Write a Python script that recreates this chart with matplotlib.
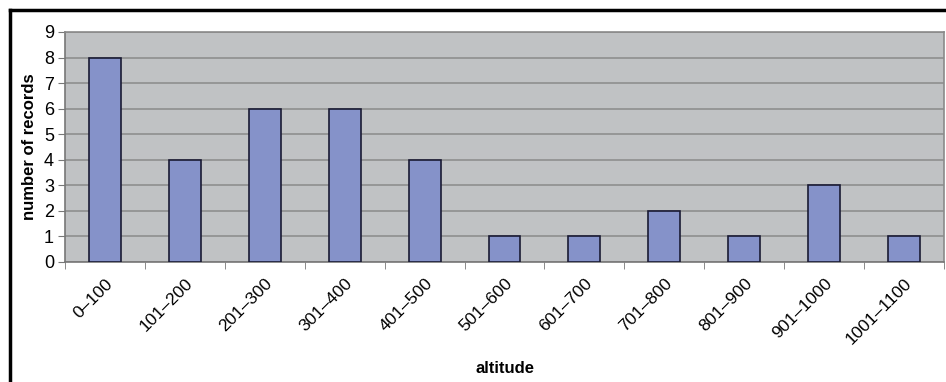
import numpy as np
import matplotlib.pyplot as plt

altitude = ["0–100", "101–200", "201–300", "301–400", "401–500", "501–600",
            "601–700", "701–800", "801–900", "901–1000", "1001–1100"]
records = [8, 4, 6, 6, 4, 1, 1, 2, 1, 3, 1]

plt.rcParams['font.family'] = ['Liberation Sans', 'DejaVu Sans']

fig = plt.figure(figsize=(9.46, 3.82), dpi=100)
ax = fig.add_axes([65 / 946, 1 - 262 / 382, 879 / 946, 230 / 382])

x = np.arange(len(altitude))
ax.bar(x, records, width=0.4, color="#8592c9", edgecolor="#1a1a33",
       linewidth=1.2, zorder=3)

ax.set_facecolor("#c0c2c4")
ax.set_xlim(-0.5, len(altitude) - 0.5)
ax.set_ylim(0, 9)
ax.set_yticks(range(10))
ax.yaxis.grid(True, color="#8a8a8a", linewidth=1.1, zorder=1)

ax.set_xticks(x)
ax.set_xticklabels(altitude, rotation=45, ha="right", rotation_mode="anchor",
                   fontsize=12.5)
ax.tick_params(axis="x", length=0, pad=10)
ax.set_xticks(np.arange(-0.5, len(altitude)), minor=True)
ax.tick_params(axis="x", which="minor", length=5, color="#777777")
ax.tick_params(axis="y", labelsize=13, length=5, color="#777777", pad=3)

for side in ["top", "right"]:
    ax.spines[side].set_color("#8a8a8a")
    ax.spines[side].set_linewidth(1.2)
for side in ["left", "bottom"]:
    ax.spines[side].set_color("#777777")
    ax.spines[side].set_linewidth(1.2)

ax.set_ylabel("number of records", fontsize=12, fontweight="bold", labelpad=5)
ax.set_xlabel("altitude", fontsize=12, fontweight="bold")
ax.xaxis.set_label_coords(0.5, -0.43)

# outer black frame on the left and top
fig.add_artist(plt.Line2D([9.5 / 946, 9.5 / 946], [0, 1 - 9.5 / 382],
                          color="black", linewidth=2.5))
fig.add_artist(plt.Line2D([9.5 / 946, 1], [1 - 9.5 / 382, 1 - 9.5 / 382],
                          color="black", linewidth=2.5))

fig.savefig("out.png", dpi=100)
